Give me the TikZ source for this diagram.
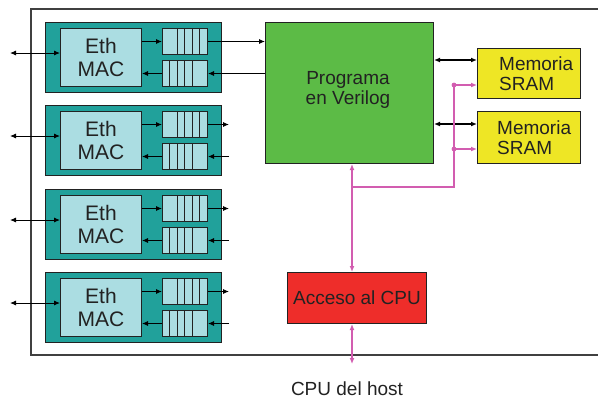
\documentclass[tikz,border=0pt]{standalone}
\usepackage{fontspec}
\setmainfont{Liberation Sans}
\usetikzlibrary{arrows.meta,calc}
\definecolor{tealbox}{HTML}{21A19B}
\definecolor{macfill}{HTML}{ABDDE2}
\definecolor{progfill}{HTML}{5CBB46}
\definecolor{memfill}{HTML}{EEE625}
\definecolor{cpufill}{HTML}{EE2D2A}
\definecolor{busline}{HTML}{D25DB0}
\definecolor{inkgray}{HTML}{222222}
\begin{document}
\begin{tikzpicture}[x=1pt,y=-1pt,
  box/.style={draw=inkgray, line width=1pt, inner sep=0pt, anchor=north west},
  txt/.style={text=inkgray, font=\fontsize{19}{20}\selectfont, align=center, inner sep=0pt},
  tip/.style={-{Latex[length=6pt,width=5pt]}},
  sig/.style={draw=black, line width=0.9pt},
  dbl/.style={draw=black, line width=1.4pt, {Latex[length=6pt,width=5pt]}-{Latex[length=6pt,width=5pt]}},
  bus/.style={draw=busline, line width=1.8pt},
  busboth/.style={bus, {Latex[length=6pt,width=5pt]}-{Latex[length=6pt,width=5pt]}},
  bustip/.style={bus, -{Latex[length=6pt,width=5pt]}}]
\useasboundingbox (0,0) rectangle (598,400);
% board outline, running off the right edge
\begin{scope}
  \clip (0,0) rectangle (598,400);
  \draw[draw=black!75, line width=1.2pt] (31,9) rectangle (640,355);
\end{scope}

% four Ethernet ports: MAC plus TX and RX queues
\foreach \i/\y in {1/22,2/105,3/189,4/272}{
  \node[box, fill=tealbox, minimum width=176pt, minimum height=70pt] (mod\i) at (45,\y) {};
  \node[box, fill=macfill, minimum width=81pt, minimum height=58pt] (mac\i) at (60,\y+6) {};
  \node[txt, font=\fontsize{21}{23}\selectfont] (mact\i) at (mac\i.center) {Eth\\MAC};
  \node[box, fill=macfill, minimum width=45pt, minimum height=26pt] (qo\i) at (162,\y+6) {};
  \node[box, fill=macfill, minimum width=45pt, minimum height=26pt] (qi\i) at (162,\y+38) {};
  \foreach \d in {15,22.5,30,37.5}
    \draw[draw=inkgray, line width=0.9pt] ([xshift=\d pt]qo\i.north west) -- ([xshift=\d pt]qo\i.south west);
  \foreach \d in {7.5,15,22.5,30}
    \draw[draw=inkgray, line width=0.9pt] ([xshift=\d pt]qi\i.north west) -- ([xshift=\d pt]qi\i.south west);
  \coordinate (ext\i) at (10,\y+31);
  \draw[sig, {Latex[length=6pt,width=5pt]}-{Latex[length=6pt,width=5pt]}] (ext\i) -- (ext\i -| mac\i.west);
  \draw[sig, tip] (mac\i.east |- qo\i.west) -- (qo\i.west);
  \draw[sig, tip] (qi\i.west) -- (mac\i.east |- qi\i.west);
}

% user logic, memories and CPU access block
\node[box, fill=progfill, minimum width=168pt, minimum height=141pt] (prog) at (265,22) {};
\node[txt] (progt) at (348,90) {Programa\\en Verilog};
\node[box, fill=memfill, minimum width=103pt, minimum height=50pt] (memA) at (477,48) {};
\node[txt, anchor=west, align=left] (memAt) at ([xshift=22pt]memA.west) {Memoria\\SRAM};
\node[box, fill=memfill, minimum width=103pt, minimum height=52pt] (memB) at (477,111) {};
\node[txt, anchor=west, align=left] (memBt) at ([xshift=20pt]memB.west) {Memoria\\SRAM};
\node[box, fill=cpufill, minimum width=139pt, minimum height=51pt] (acc) at (287,272) {};
\node[txt] (acct) at (acc.center) {Acceso al CPU};
\node[txt] (host) at (347,389) {CPU del host};

% port 1 talks to the user logic, the other ports have open stubs
\draw[sig, tip] (qo1.east) -- (prog.west |- qo1.east);
\draw[sig, tip] (prog.west |- qi1.east) -- (qi1.east);
\foreach \i in {2,3,4}{
  \coordinate (so\i) at (229,0);
  \draw[sig, tip] (qo\i.east) -- (so\i |- qo\i.east);
  \draw[sig, tip] (so\i |- qi\i.east) -- (qi\i.east);
}

% memory data paths
\coordinate (rowA) at (0,60);
\coordinate (rowB) at (0,124);
\draw[dbl] (prog.east |- rowA) -- (memA.west |- rowA);
\draw[dbl] (prog.east |- rowB) -- (memB.west |- rowB);

% CPU bus
\coordinate (busx) at (352,0);
\coordinate (j1) at (352,187);
\coordinate (j2) at (454,187);
\coordinate (ja) at (454,85);
\coordinate (jb) at (454,149);
\coordinate (hostend) at (352,364);
\draw[busboth] (busx |- prog.south) -- (busx |- acc.north);
\draw[bus] (j1) -- (j2) -- (ja);
\draw[bustip] (ja) -- (ja -| memA.west);
\draw[bustip] (jb) -- (jb -| memB.west);
\fill[busline] (ja) circle (2.4pt) (jb) circle (2.4pt);
\draw[busboth] (busx |- acc.south) -- (hostend);
\end{tikzpicture}
\end{document}
